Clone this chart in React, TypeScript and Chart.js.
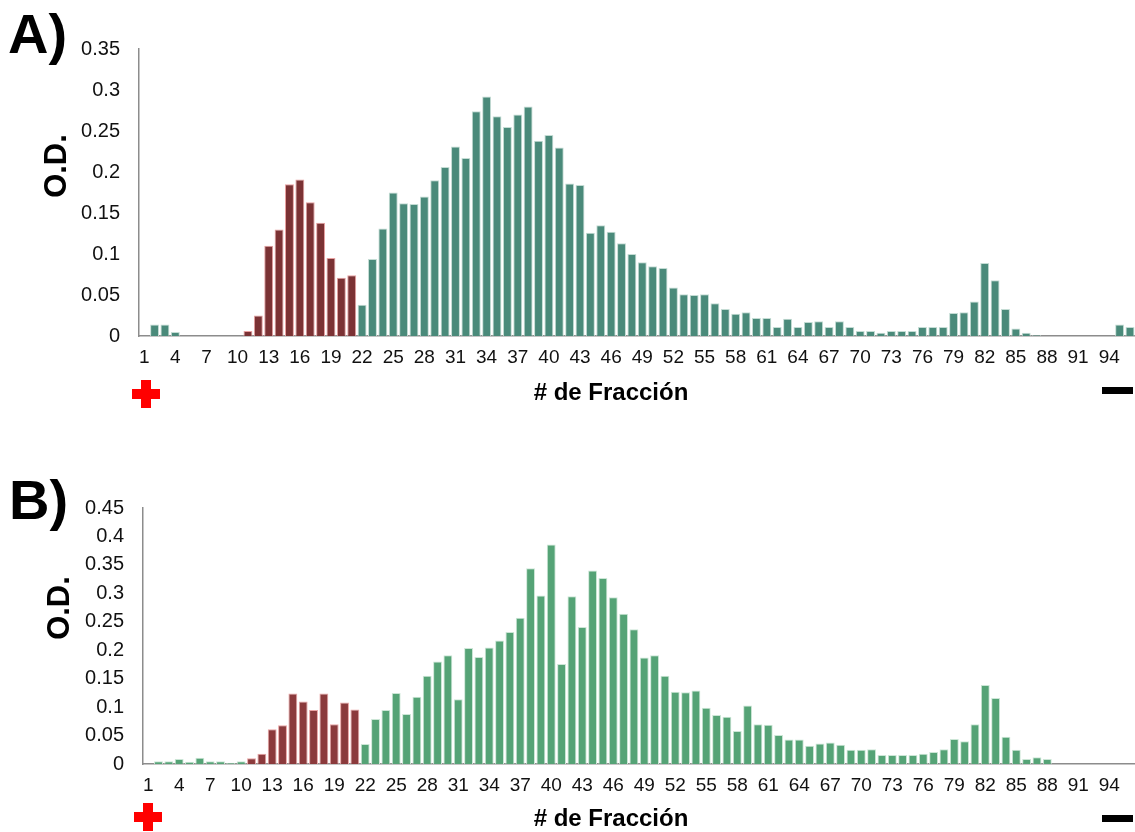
import React, { useEffect, useRef } from "react";
import { Chart, registerables } from "chart.js";

Chart.register(...registerables);

const fractions = [
  1, 2, 3, 4, 5, 6, 7, 8, 9, 10, 11, 12, 13, 14, 15, 16, 17, 18, 19, 20,
  21, 22, 23, 24, 25, 26, 27, 28, 29, 30, 31, 32, 33, 34, 35, 36, 37, 38, 39, 40,
  41, 42, 43, 44, 45, 46, 47, 48, 49, 50, 51, 52, 53, 54, 55, 56, 57, 58, 59, 60,
  61, 62, 63, 64, 65, 66, 67, 68, 69, 70, 71, 72, 73, 74, 75, 76, 77, 78, 79, 80,
  81, 82, 83, 84, 85, 86, 87, 88, 89, 90, 91, 92, 93, 94, 95, 96,
];

// fractions highlighted in red (first peak)
const redFractions = [11, 12, 13, 14, 15, 16, 17, 18, 19, 20, 21];

const odA = [
  0, 0.014, 0.014, 0.005, 0, 0, 0, 0, 0, 0,
  0.006, 0.025, 0.11, 0.13, 0.185, 0.191, 0.163, 0.138, 0.095, 0.071,
  0.074, 0.038, 0.094, 0.131, 0.175, 0.162, 0.161, 0.17, 0.19, 0.206,
  0.231, 0.217, 0.274, 0.292, 0.268, 0.255, 0.27, 0.28, 0.238, 0.245,
  0.23, 0.186, 0.184, 0.126, 0.135, 0.127, 0.113, 0.1, 0.09, 0.085,
  0.083, 0.059, 0.051, 0.05, 0.051, 0.04, 0.033, 0.027, 0.029, 0.022,
  0.022, 0.011, 0.021, 0.011, 0.017, 0.018, 0.011, 0.018, 0.011, 0.006,
  0.006, 0.004, 0.006, 0.006, 0.006, 0.011, 0.011, 0.011, 0.028, 0.029,
  0.042, 0.089, 0.068, 0.033, 0.009, 0.004, 0.001, 0, 0, 0,
  0, 0, 0, 0, 0.014, 0.011,
];

const odB = [
  0, 0.005, 0.005, 0.009, 0.004, 0.011, 0.005, 0.005, 0.002, 0.005,
  0.01, 0.018, 0.061, 0.068, 0.124, 0.11, 0.095, 0.124, 0.07, 0.108,
  0.096, 0.035, 0.079, 0.095, 0.125, 0.088, 0.118, 0.155, 0.18, 0.191,
  0.114, 0.204, 0.188, 0.205, 0.217, 0.232, 0.257, 0.344, 0.296, 0.386,
  0.176, 0.295, 0.241, 0.34, 0.327, 0.293, 0.264, 0.237, 0.187, 0.191,
  0.155, 0.127, 0.126, 0.129, 0.099, 0.086, 0.083, 0.058, 0.103, 0.07,
  0.069, 0.051, 0.043, 0.043, 0.032, 0.036, 0.038, 0.034, 0.025, 0.025,
  0.026, 0.016, 0.016, 0.016, 0.016, 0.018, 0.021, 0.026, 0.044, 0.04,
  0.07, 0.139, 0.116, 0.048, 0.025, 0.009, 0.012, 0.009, 0, 0,
  0, 0, 0, 0, 0, 0,
];

const FONT = "'Liberation Sans', Arial, sans-serif";

type PanelProps = {
  values: number[];
  yMax: number;
  green: string;
  greenBorder: string;
  red: string;
  redBorder: string;
  top: number;
  plotTop: number;
  plotBottom: number;
  plotLeft: number;
};

const CANVAS_W = 1140;
const CANVAS_H = 400;

function Panel(p: PanelProps) {
  const ref = useRef<HTMLCanvasElement | null>(null);
  useEffect(() => {
    if (!ref.current) return;
    const isRed = (i: number) => redFractions.includes(fractions[i]);
    const chart = new Chart(ref.current, {
      type: "bar",
      data: {
        labels: fractions.map(String),
        datasets: [
          {
            data: p.values,
            backgroundColor: p.values.map((_, i) => (isRed(i) ? p.red : p.green)),
            borderColor: p.values.map((_, i) => (isRed(i) ? p.redBorder : p.greenBorder)),
            borderWidth: 1,
            barPercentage: 0.86,
            categoryPercentage: 1,
          },
        ],
      },
      options: {
        responsive: false,
        animation: false,
        devicePixelRatio: 1,
        layout: {
          padding: { top: p.plotTop, right: CANVAS_W - 1137, left: 0, bottom: 0 },
        },
        plugins: { legend: { display: false }, tooltip: { enabled: false } },
        scales: {
          x: {
            offset: true,
            grid: { display: false, drawTicks: false },
            border: { display: true, color: "#8c8c8c", width: 1.5 },
            ticks: {
              autoSkip: false,
              maxRotation: 0,
              minRotation: 0,
              padding: 10,
              color: "#111",
              font: { family: FONT, size: 19 },
              callback: (_v: any, i: number) => (i % 3 === 0 ? String(fractions[i]) : ""),
            },
            afterFit: (s: any) => {
              s.height = CANVAS_H - p.plotBottom;
            },
          },
          y: {
            min: 0,
            max: p.yMax,
            grid: { display: false, drawTicks: false },
            border: { display: true, color: "#8c8c8c", width: 1.5 },
            ticks: {
              stepSize: 0.05,
              padding: 19,
              color: "#111",
              font: { family: FONT, size: 20 },
              callback: (v: any) => String(parseFloat(Number(v).toFixed(2))),
            },
            afterFit: (s: any) => {
              s.width = p.plotLeft;
            },
          },
        },
      },
    });
    return () => chart.destroy();
  }, []);
  return (
    <canvas
      ref={ref}
      width={CANVAS_W}
      height={CANVAS_H}
      style={{ position: "absolute", left: 0, top: p.top, width: CANVAS_W, height: CANVAS_H }}
    />
  );
}

function Label(props: { text: string; left: number; top: number; size: number }) {
  return (
    <div
      style={{
        position: "absolute",
        left: props.left,
        top: props.top,
        fontFamily: FONT,
        fontWeight: "bold",
        fontSize: props.size,
        lineHeight: 1,
        color: "#000",
        whiteSpace: "nowrap",
      }}
    >
      {props.text}
    </div>
  );
}

function Centered(props: { text: string; cx: number; cy: number; size: number; rotate?: boolean }) {
  return (
    <div
      style={{
        position: "absolute",
        left: props.cx,
        top: props.cy,
        transform: `translate(-50%, -50%)${props.rotate ? " rotate(-90deg)" : ""}`,
        fontFamily: FONT,
        fontWeight: "bold",
        fontSize: props.size,
        lineHeight: 1,
        color: "#000",
        whiteSpace: "nowrap",
      }}
    >
      {props.text}
    </div>
  );
}

function Plus(props: { cx: number; cy: number }) {
  const s = 28;
  const t = 10;
  const base = { position: "absolute" as const, background: "#ff0000" };
  return (
    <>
      <div style={{ ...base, left: props.cx - s / 2, top: props.cy - t / 2, width: s, height: t }} />
      <div style={{ ...base, left: props.cx - t / 2, top: props.cy - s / 2, width: t, height: s }} />
    </>
  );
}

function Minus(props: { left: number; top: number }) {
  return (
    <div
      style={{ position: "absolute", left: props.left, top: props.top, width: 31, height: 7, background: "#000" }}
    />
  );
}

export default function App() {
  return (
    <div
      style={{
        position: "absolute",
        left: 0,
        top: 0,
        width: 1135,
        height: 832,
        overflow: "hidden",
        background: "#fff",
      }}
    >
      <Panel
        values={odA}
        yMax={0.35}
        green="#4a8a7a"
        greenBorder="#c4dcd4"
        red="#7b3234"
        redBorder="#e8a0a0"
        top={0}
        plotTop={49}
        plotBottom={336}
        plotLeft={139}
      />
      <Panel
        values={odB}
        yMax={0.45}
        green="#55a376"
        greenBorder="#cce6d6"
        red="#8b3a3c"
        redBorder="#eaa4a4"
        top={430}
        plotTop={78}
        plotBottom={334}
        plotLeft={143}
      />
      <Label text="A)" left={8} top={6} size={56} />
      <Label text="B)" left={9} top={472} size={56} />
      <Centered text="O.D." cx={55} cy={166} size={31} rotate />
      <Centered text="O.D." cx={58} cy={608} size={31} rotate />
      <Centered text="# de Fracción" cx={611} cy={392} size={24} />
      <Centered text="# de Fracción" cx={611} cy={818} size={24} />
      <Plus cx={146} cy={394} />
      <Plus cx={148} cy={817} />
      <Minus left={1102} top={387} />
      <Minus left={1102} top={815} />
    </div>
  );
}
